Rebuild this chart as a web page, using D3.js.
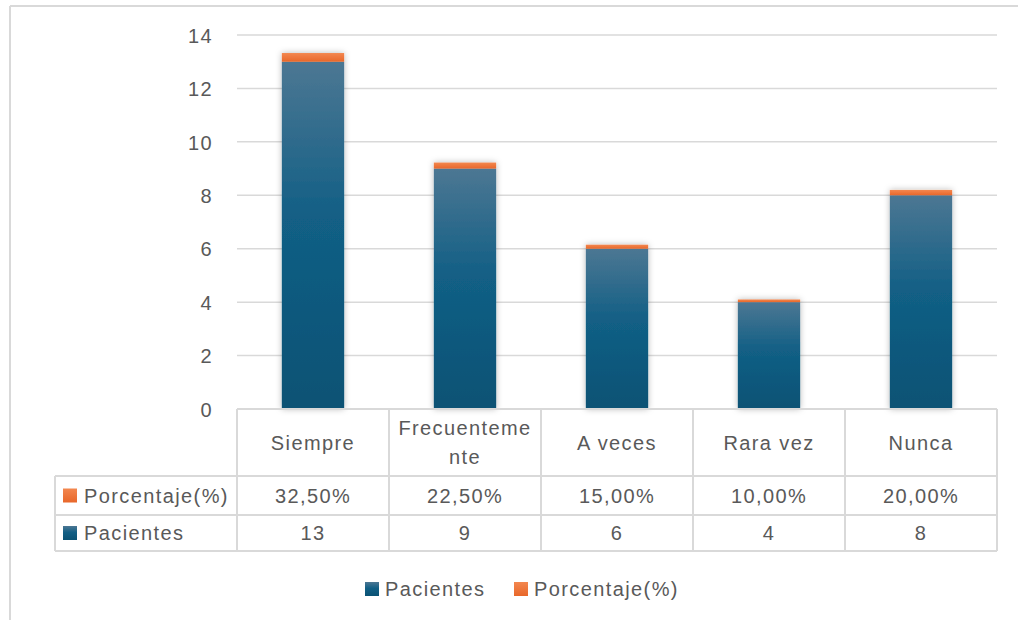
<!DOCTYPE html>
<html>
<head>
<meta charset="utf-8">
<script src="https://cdn.jsdelivr.net/npm/d3@7"></script>
<style>
  html, body { margin: 0; padding: 0; background: #fff; }
  svg { display: block; }
  text { font-family: "Liberation Sans", Arial, sans-serif; fill: #595959; }
</style>
</head>
<body>
<svg id="chart" width="1018" height="620"></svg>
<script>
// Survey answers: number of patients and share per frequency category
const categories = ["Siempre", "Frecuentemente", "A veces", "Rara vez", "Nunca"];
const pacientes = [13, 9, 6, 4, 8];
const porcentaje = [0.325, 0.225, 0.15, 0.10, 0.20];
const porcentajeLabels = ["32,50%", "22,50%", "15,00%", "10,00%", "20,00%"];
const yTicks = [0, 2, 4, 6, 8, 10, 12, 14];
const seriesNames = ["Pacientes", "Porcentaje(%)"];

const svg = d3.select("#chart");
const W = 1018, H = 620;
const plot = { left: 237, right: 997, top: 35, bottom: 409 };
const table = { left: 55, headerBottom: 476, row1Bottom: 515, row2Bottom: 551 };
const border = "#d9d9d9";
const fontSize = 20, letter = 1.4;

// Gradients for the two series
const defs = svg.append("defs");
function vGrad(id, stops) {
  const g = defs.append("linearGradient").attr("id", id)
    .attr("x1", 0).attr("y1", 0).attr("x2", 0).attr("y2", 1);
  stops.forEach(s => g.append("stop").attr("offset", s[0]).attr("stop-color", s[1]));
}
vGrad("gBlue", [[0, "#4c7793"], [0.45, "#125f85"], [1, "#0a5274"]]);
vGrad("gOrange", [[0, "#f3874f"], [1, "#e8672a"]]);
const shadow = defs.append("filter").attr("id", "shadow")
  .attr("x", "-30%").attr("y", "-10%").attr("width", "160%").attr("height", "120%");
shadow.append("feDropShadow").attr("dx", 0).attr("dy", 0).attr("stdDeviation", 3)
  .attr("flood-color", "#000").attr("flood-opacity", 0.28);

// Outer frame
svg.append("line").attr("x1", 10).attr("x2", 10).attr("y1", 6).attr("y2", H)
  .attr("stroke", border).attr("stroke-width", 2);
svg.append("line").attr("x1", 10).attr("x2", W).attr("y1", 6).attr("y2", 6)
  .attr("stroke", border).attr("stroke-width", 2);

// Scales
const x = d3.scaleBand().domain(categories).range([plot.left, plot.right])
  .paddingInner(0).paddingOuter(0);
const y = d3.scaleLinear().domain([0, 14]).range([plot.bottom, plot.top]);

// Horizontal gridlines (zero line becomes the table's top edge)
svg.append("g").selectAll("line").data(yTicks.filter(t => t > 0)).join("line")
  .attr("x1", plot.left).attr("x2", plot.right)
  .attr("y1", d => y(d)).attr("y2", d => y(d))
  .attr("stroke", border).attr("stroke-width", 1.5);

// Y axis labels
const yAxis = d3.axisLeft(y).tickValues(yTicks).tickSize(0).tickPadding(0);
const gy = svg.append("g").attr("transform", `translate(${plot.left - 24},0)`).call(yAxis);
gy.select(".domain").remove();
gy.selectAll("text").attr("font-size", fontSize).attr("letter-spacing", letter)
  .attr("font-family", "Liberation Sans, Arial, sans-serif").attr("fill", "#595959")
  .attr("dy", "0.36em");

// Stacked bars
const barW = x.bandwidth() * 0.41;
const stackData = categories.map((c, i) => ({ cat: c, pacientes: pacientes[i], porcentaje: porcentaje[i] }));
const stacked = d3.stack().keys(["pacientes", "porcentaje"])(stackData);
const fills = ["url(#gBlue)", "url(#gOrange)"];
const bars = svg.append("g").attr("filter", "url(#shadow)");
stacked.forEach((layer, li) => {
  bars.selectAll(null).data(layer).join("rect")
    .attr("x", d => x(d.data.cat) + (x.bandwidth() - barW) / 2)
    .attr("width", barW)
    .attr("y", d => y(d[1]))
    .attr("height", d => y(d[0]) - y(d[1]))
    .attr("fill", fills[li]);
});

// Data table
const tg = svg.append("g");
const lines = [
  [plot.left, plot.bottom, plot.right, plot.bottom],
  [table.left, table.headerBottom, plot.right, table.headerBottom],
  [table.left, table.row1Bottom, plot.right, table.row1Bottom],
  [table.left, table.row2Bottom, plot.right, table.row2Bottom],
  [table.left, table.headerBottom, table.left, table.row2Bottom]
];
x.domain().forEach(c => lines.push([x(c), plot.bottom, x(c), table.row2Bottom]));
lines.push([plot.right, plot.bottom, plot.right, table.row2Bottom]);
tg.selectAll("line").data(lines).join("line")
  .attr("x1", d => d[0]).attr("y1", d => d[1]).attr("x2", d => d[2]).attr("y2", d => d[3])
  .attr("stroke", border).attr("stroke-width", 2);

function txt(g, s, xx, yy, anchor) {
  return g.append("text").attr("x", xx).attr("y", yy).attr("text-anchor", anchor || "middle")
    .attr("dy", "0.36em").attr("font-size", fontSize).attr("letter-spacing", letter).text(s);
}

// Header row with character wrapping inside each cell
const maxW = x.bandwidth() - 12;
categories.forEach(c => {
  const cx = x(c) + x.bandwidth() / 2;
  const probe = txt(tg, c, cx, 0);
  const parts = [];
  let cur = "";
  for (const ch of c) {
    probe.text(cur + ch);
    if (probe.node().getComputedTextLength() > maxW && cur) { parts.push(cur); cur = ch; }
    else cur += ch;
  }
  parts.push(cur);
  probe.remove();
  const mid = (plot.bottom + table.headerBottom) / 2;
  const lh = 29;
  parts.forEach((p, k) => txt(tg, p, cx, mid + (k - (parts.length - 1) / 2) * lh));
});

// Value rows
const rowMid1 = (table.headerBottom + table.row1Bottom) / 2;
const rowMid2 = (table.row1Bottom + table.row2Bottom) / 2;
categories.forEach((c, i) => {
  const cx = x(c) + x.bandwidth() / 2;
  txt(tg, porcentajeLabels[i], cx, rowMid1);
  txt(tg, String(pacientes[i]), cx, rowMid2);
});
// Row headers with legend keys
tg.append("rect").attr("x", 63).attr("y", rowMid1 - 7).attr("width", 14).attr("height", 14).attr("fill", "url(#gOrange)");
txt(tg, seriesNames[1], 84, rowMid1, "start");
tg.append("rect").attr("x", 63).attr("y", rowMid2 - 7).attr("width", 14).attr("height", 14).attr("fill", "url(#gBlue)");
txt(tg, seriesNames[0], 84, rowMid2, "start");

// Legend
const lg = svg.append("g");
const ly = 589;
lg.append("rect").attr("x", 365).attr("y", ly - 7).attr("width", 14).attr("height", 14).attr("fill", "url(#gBlue)");
txt(lg, seriesNames[0], 385, ly, "start");
lg.append("rect").attr("x", 514).attr("y", ly - 7).attr("width", 14).attr("height", 14).attr("fill", "url(#gOrange)");
txt(lg, seriesNames[1], 534, ly, "start");
</script>
</body>
</html>
